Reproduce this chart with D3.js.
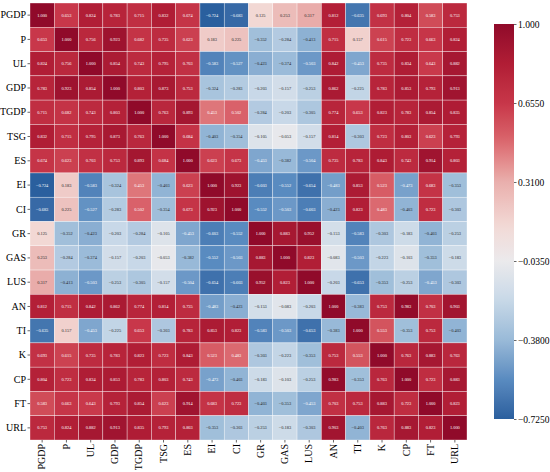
<!DOCTYPE html>
<html>
<head>
<meta charset="utf-8">
<script src="https://cdn.jsdelivr.net/npm/d3@7"></script>
<style>
  body { margin: 0; background: #fff; }
  svg, svg text { font-family: "Liberation Serif", "Times New Roman", serif !important; font-weight: normal; }
</style>
</head>
<body>
<div id="chart"></div>
<script>
let variables = ['PGDP', 'P', 'UL', 'GDP', 'TGDP', 'TSG', 'ES', 'EI', 'CI', 'GR', 'GAS', 'LUS', 'AN', 'TI', 'K', 'CP', 'FT', 'URL']

// correlation matrix, one row per variable
let values = [
  [1.000, 0.653, 0.824, 0.783, 0.715, 0.832, 0.674, -0.724, -0.683, 0.125, 0.253, 0.317, 0.812, -0.635, 0.693, 0.804, 0.583, 0.753],
  [0.653, 1.000, 0.756, 0.923, 0.682, 0.735, 0.623, 0.183, 0.225, -0.352, -0.284, -0.413, 0.715, 0.157, 0.615, 0.723, 0.663, 0.824],
  [0.824, 0.756, 1.000, 0.854, 0.743, 0.795, 0.703, -0.583, -0.527, -0.423, -0.374, -0.503, 0.842, -0.453, 0.735, 0.834, 0.643, 0.882],
  [0.783, 0.923, 0.854, 1.000, 0.803, 0.873, 0.753, -0.324, -0.283, -0.203, -0.157, -0.253, 0.862, -0.225, 0.783, 0.853, 0.793, 0.913],
  [0.715, 0.682, 0.743, 0.803, 1.000, 0.763, 0.893, 0.453, 0.502, -0.284, -0.203, -0.305, 0.774, 0.653, 0.823, 0.783, 0.854, 0.835],
  [0.832, 0.715, 0.795, 0.873, 0.763, 1.000, 0.684, -0.403, -0.354, -0.105, -0.053, -0.157, 0.814, -0.303, 0.723, 0.803, 0.623, 0.793],
  [0.674, 0.623, 0.703, 0.753, 0.893, 0.684, 1.000, 0.623, 0.673, -0.453, -0.382, -0.504, 0.735, 0.783, 0.843, 0.743, 0.914, 0.803],
  [-0.724, 0.183, -0.583, -0.324, 0.453, -0.403, 0.623, 1.000, 0.923, -0.603, -0.552, -0.654, -0.483, 0.853, 0.523, -0.473, 0.683, -0.353],
  [-0.683, 0.225, -0.527, -0.283, 0.502, -0.354, 0.673, 0.923, 1.000, -0.552, -0.503, -0.603, -0.423, 0.823, 0.483, -0.403, 0.723, -0.303],
  [0.125, -0.352, -0.423, -0.203, -0.284, -0.105, -0.453, -0.603, -0.552, 1.000, 0.883, 0.952, -0.153, -0.583, -0.303, -0.183, -0.403, -0.253],
  [0.253, -0.284, -0.374, -0.157, -0.203, -0.053, -0.382, -0.552, -0.503, 0.883, 1.000, 0.823, -0.083, -0.503, -0.223, -0.103, -0.353, -0.183],
  [0.317, -0.413, -0.503, -0.253, -0.305, -0.157, -0.504, -0.654, -0.603, 0.952, 0.823, 1.000, -0.203, -0.653, -0.353, -0.253, -0.453, -0.303],
  [0.812, 0.715, 0.842, 0.862, 0.774, 0.814, 0.735, -0.483, -0.423, -0.153, -0.083, -0.203, 1.000, -0.383, 0.753, 0.983, 0.703, 0.903],
  [-0.635, 0.157, -0.453, -0.225, 0.653, -0.303, 0.783, 0.853, 0.823, -0.583, -0.503, -0.653, -0.383, 1.000, 0.553, -0.353, 0.753, -0.403],
  [0.693, 0.615, 0.735, 0.783, 0.823, 0.723, 0.843, 0.523, 0.483, -0.303, -0.223, -0.353, 0.753, 0.553, 1.000, 0.763, 0.883, 0.763],
  [0.804, 0.723, 0.834, 0.853, 0.783, 0.803, 0.743, -0.473, -0.403, -0.183, -0.103, -0.253, 0.983, -0.353, 0.763, 1.000, 0.723, 0.883],
  [0.583, 0.663, 0.643, 0.793, 0.854, 0.623, 0.914, 0.683, 0.723, -0.403, -0.353, -0.453, 0.703, 0.753, 0.883, 0.723, 1.000, 0.823],
  [0.753, 0.824, 0.882, 0.913, 0.835, 0.793, 0.803, -0.353, -0.303, -0.253, -0.183, -0.303, 0.903, -0.403, 0.763, 0.883, 0.823, 1.000]
]

let colorbarTicks = [1.0, 0.655, 0.31, -0.035, -0.38, -0.725]
let colorbarLabels = ['1.000', '0.6550', '0.3100', '\u22120.0350', '\u22120.3800', '\u22120.7250']

let width = 550
let height = 472
let grid = { left: 30, top: 3, size: 437 }
let bar = { left: 494, width: 20, top: 24, bottom: 419 }

let svg = d3
  .select('#chart')
  .append('svg')
  .attr('width', width)
  .attr('height', height)

let xPositionScale = d3
  .scaleBand()
  .domain(variables)
  .range([grid.left, grid.left + grid.size])
let yPositionScale = d3
  .scaleBand()
  .domain(variables)
  .range([grid.top, grid.top + grid.size])

// red - white - blue ramp, picked to match the original palette
let colorScale = d3
  .scaleLinear()
  .domain([1.0, 0.82, 0.65, 0.5, 0.31, 0.12, -0.035, -0.2, -0.38, -0.55, -0.725])
  .range(['#900a2a', '#b21e36', '#c8374a', '#d9626a', '#e9afad', '#f2d9d5', '#ebeaec', '#c9d9e8', '#99bad8', '#5a8cc0', '#2a5f9e'])
  .interpolate(d3.interpolateLab)
  .clamp(true)

function luminance(c) {
  let rgb = d3.rgb(c)
  let f = x => {
    x = x / 255
    return x <= 0.03928 ? x / 12.92 : Math.pow((x + 0.055) / 1.055, 2.4)
  }
  return 0.2126 * f(rgb.r) + 0.7152 * f(rgb.g) + 0.0722 * f(rgb.b)
}

let cells = []
values.forEach((row, i) => {
  row.forEach((v, j) => {
    cells.push({ row: variables[i], col: variables[j], value: v })
  })
})

svg
  .selectAll('.cell')
  .data(cells)
  .enter()
  .append('rect')
  .attr('class', 'cell')
  .attr('x', d => xPositionScale(d.col))
  .attr('y', d => yPositionScale(d.row))
  .attr('width', xPositionScale.bandwidth())
  .attr('height', yPositionScale.bandwidth())
  .attr('fill', d => colorScale(d.value))
  .attr('stroke', '#fff')
  .attr('stroke-opacity', 0.7)
  .attr('stroke-width', 0.5)

let fmt = d3.format('.3f')
svg
  .selectAll('.annot')
  .data(cells)
  .enter()
  .append('text')
  .attr('class', 'annot')
  .attr('x', d => xPositionScale(d.col) + xPositionScale.bandwidth() / 2)
  .attr('y', d => yPositionScale(d.row) + yPositionScale.bandwidth() / 2)
  .attr('dy', '0.35em')
  .attr('text-anchor', 'middle')
  .attr('font-size', 4.4)
  .attr('fill', d => (luminance(colorScale(d.value)) > 0.4 ? '#262626' : '#fff'))
  .text(d => fmt(d.value).replace('-', '\u2212'))

// axes
let yAxis = d3.axisLeft(yPositionScale).tickSize(2.5).tickPadding(1.5)
svg
  .append('g')
  .attr('transform', 'translate(' + grid.left + ',0)')
  .call(yAxis)
  .call(g => g.select('.domain').remove())
  .call(g => g.selectAll('text').attr('font-size', 10).attr('fill', '#000'))
  .call(g => g.selectAll('line').attr('stroke', '#000').attr('stroke-width', 0.6))

let xAxis = d3.axisBottom(xPositionScale).tickSize(2.5).tickPadding(1.5)
svg
  .append('g')
  .attr('transform', 'translate(0,' + (grid.top + grid.size) + ')')
  .call(xAxis)
  .call(g => g.select('.domain').remove())
  .call(g =>
    g
      .selectAll('text')
      .attr('font-size', 10)
      .attr('fill', '#000')
      .attr('transform', 'rotate(-90)')
      .attr('text-anchor', 'end')
      .attr('x', -4)
      .attr('y', 0)
      .attr('dy', '0.32em')
  )
  .call(g => g.selectAll('line').attr('stroke', '#000').attr('stroke-width', 0.6))

// colorbar
let barScale = d3
  .scaleLinear()
  .domain([-0.725, 1])
  .range([bar.bottom, bar.top])

let gradient = svg
  .append('defs')
  .append('linearGradient')
  .attr('id', 'cbar')
  .attr('x1', 0)
  .attr('y1', 1)
  .attr('x2', 0)
  .attr('y2', 0)

d3.range(0, 1.0001, 0.02).forEach(t => {
  gradient
    .append('stop')
    .attr('offset', t)
    .attr('stop-color', colorScale(-0.725 + t * 1.725))
})

svg
  .append('rect')
  .attr('x', bar.left)
  .attr('y', bar.top)
  .attr('width', bar.width)
  .attr('height', bar.bottom - bar.top)
  .attr('fill', 'url(#cbar)')

let barAxis = d3
  .axisRight(barScale)
  .tickValues(colorbarTicks)
  .tickFormat((d, i) => colorbarLabels[i])
  .tickSize(2.5)
  .tickPadding(1.5)

svg
  .append('g')
  .attr('transform', 'translate(' + (bar.left + bar.width) + ',0)')
  .call(barAxis)
  .call(g => g.select('.domain').remove())
  .call(g => g.selectAll('text').attr('font-size', 9.5).attr('fill', '#000'))
  .call(g => g.selectAll('line').attr('stroke', '#000').attr('stroke-width', 0.6))
</script>
</body>
</html>
